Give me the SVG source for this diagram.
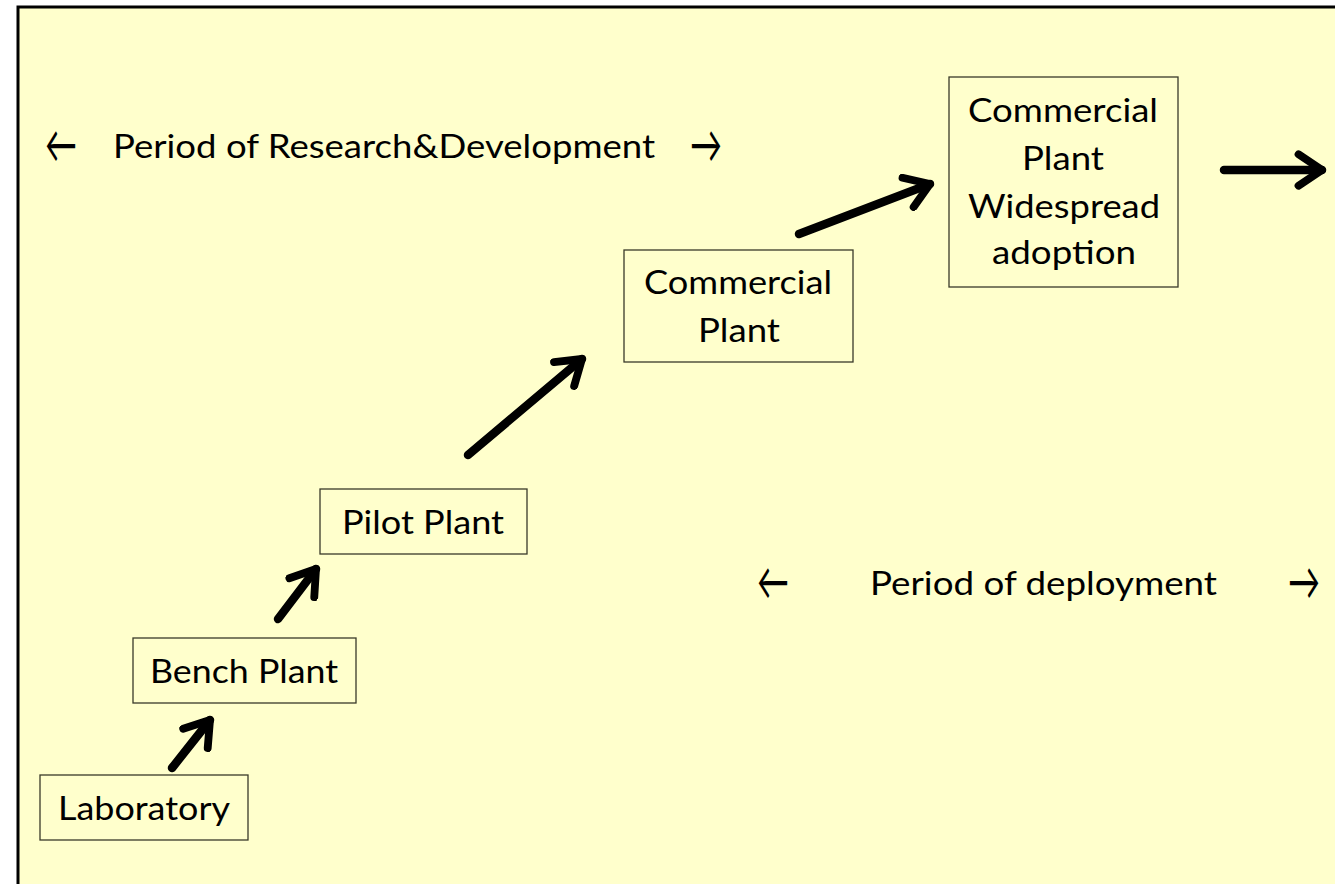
<svg xmlns="http://www.w3.org/2000/svg" width="1335" height="884" viewBox="0 0 1335 884">
<defs>
<style>
.bg{fill:#FFFFCC}
.frame{fill:none;stroke:#000;stroke-width:3}
.box{fill:#FFFFCC;stroke:#3a3a2a;stroke-width:1.3}
text{font-family:Lato,"Open Sans",sans-serif;font-size:33px;fill:#000}
.sym{font-size:52px}
.c{text-anchor:middle}
.arr{stroke:#000;stroke-width:8.5;stroke-linecap:round;stroke-linejoin:round;fill:none}
</style>
<marker id="head" viewBox="0 0 10 10" refX="8" refY="5" markerWidth="4.6" markerHeight="4.6" orient="auto" markerUnits="strokeWidth">
<path d="M2,1 L8,5 L2,9" fill="none" stroke="#000" stroke-width="2" stroke-linecap="round" stroke-linejoin="round"/>
</marker>
</defs>
<rect x="0" y="0" width="1335" height="884" fill="#ffffff"/>
<rect class="bg" x="18" y="7" width="1330" height="890"/>
<rect class="frame" x="18" y="7" width="1330" height="890"/>

<g id="label-rd">
<text class="sym" x="45" y="163" textLength="32" lengthAdjust="spacingAndGlyphs">←</text>
<text x="113" y="158" textLength="542" lengthAdjust="spacingAndGlyphs">Period of Research&amp;Development</text>
<text class="sym" x="690" y="163" textLength="32" lengthAdjust="spacingAndGlyphs">→</text>
</g>
<g id="label-deploy">
<text class="sym" x="757" y="600" textLength="32" lengthAdjust="spacingAndGlyphs">←</text>
<text x="870" y="595" textLength="347" lengthAdjust="spacingAndGlyphs">Period of deployment</text>
<text class="sym" x="1288" y="600" textLength="32" lengthAdjust="spacingAndGlyphs">→</text>
</g>

<g id="laboratory">
<rect class="box" x="40" y="775" width="208" height="65"/>
<text class="c" x="144" y="820" textLength="172" lengthAdjust="spacingAndGlyphs">Laboratory</text>
</g>
<g id="bench-plant">
<rect class="box" x="133" y="638" width="223" height="65"/>
<text class="c" x="244" y="683" textLength="188" lengthAdjust="spacingAndGlyphs">Bench Plant</text>
</g>
<g id="pilot-plant">
<rect class="box" x="320" y="489" width="207" height="65"/>
<text class="c" x="423" y="534" textLength="162" lengthAdjust="spacingAndGlyphs">Pilot Plant</text>
</g>
<g id="commercial-plant">
<rect class="box" x="624" y="250" width="229" height="112"/>
<text class="c" x="738" y="294" textLength="188" lengthAdjust="spacingAndGlyphs">Commercial</text>
<text class="c" x="739" y="342" textLength="82" lengthAdjust="spacingAndGlyphs">Plant</text>
</g>
<g id="widespread">
<rect class="box" x="949" y="77" width="229" height="210"/>
<text class="c" x="1063" y="122" textLength="190" lengthAdjust="spacingAndGlyphs">Commercial</text>
<text class="c" x="1063" y="170" textLength="82" lengthAdjust="spacingAndGlyphs">Plant</text>
<text class="c" x="1064" y="218" textLength="192" lengthAdjust="spacingAndGlyphs">Widespread</text>
<text class="c" x="1064" y="264" textLength="144" lengthAdjust="spacingAndGlyphs">adoption</text>
</g>

<g id="connectors">
<line class="arr" x1="172" y1="768" x2="210" y2="720" marker-end="url(#head)"/>
<line class="arr" x1="278" y1="619" x2="316" y2="569" marker-end="url(#head)"/>
<line class="arr" x1="468" y1="455" x2="582" y2="359" marker-end="url(#head)"/>
<line class="arr" x1="799" y1="234" x2="930" y2="184" marker-end="url(#head)"/>
<line class="arr" x1="1224" y1="170" x2="1322" y2="170" marker-end="url(#head)"/>
</g>
</svg>
